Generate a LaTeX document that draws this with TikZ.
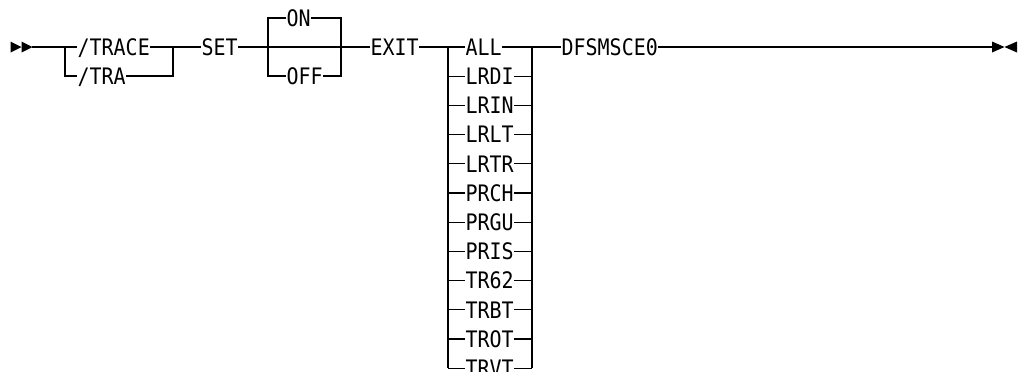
\documentclass[tikz,border=0pt]{standalone}
\usepackage{fontspec}
\setmonofont[FakeStretch=0.88]{DejaVu Sans Mono}
\begin{document}
\begin{tikzpicture}[x=1pt,y=-1pt,line width=1.25pt,
  kw/.style={anchor=west,inner sep=0pt,text height=16.5pt,text depth=0pt,
    font=\ttfamily\fontsize{22.7}{27}\selectfont},
  tip/.style={fill=black,draw=none}]
\clip (0,0) rectangle (1018,372);
% start marker
\fill[tip] (10.5,41.5) -- (21.5,47) -- (10.5,52.5) -- cycle;
\fill[tip] (21.5,41.5) -- (32.5,47) -- (21.5,52.5) -- cycle;
\coordinate (start) at (32,47);
% group 1
\coordinate (g1L) at (65,47);
\coordinate (g1R) at (173,47);
\node[kw] (trace) at (77,47) {/TRACE};
\node[kw] (tra) at (77,76) {/TRA};
\draw (start) -- (g1L) -- (trace.west);
\draw (trace.east) -- (g1R);
\draw (g1L) |- (tra.west);
\draw (tra.east) -| (g1R);
\node[kw] (set) at (201,47) {SET};
\draw (g1R) -- (set.west);
% group 2
\coordinate (g2L) at (268,47);
\coordinate (g2R) at (341,47);
\node[kw] (on) at (286,18) {ON};
\node[kw] (off) at (286,76) {OFF};
\draw (set.east) -- (g2L) -- (g2R);
\draw (on.west) -| (g2L) |- (off.west);
\draw (on.east) -| (g2R) |- (off.east);
\node[kw] (exit) at (370,47) {EXIT};
\draw (g2R) -- (exit.west);
% group 3
\coordinate (g3L) at (448,47);
\coordinate (g3R) at (532,47);
\foreach \t [count=\i from 0] in {ALL,LRDI,LRIN,LRLT,LRTR,PRCH,PRGU,PRIS,TR62,TRBT,TROT,TRVT}{
  \node[kw] (o\i) at (465,{47+29.2*\i}) {\t};
  \draw (g3L |- o\i.west) -- (o\i.west);
  \draw (o\i.east) -- (g3R |- o\i.east);
}
\draw (exit.east) -- (g3L) -- (g3L |- o11.west);
\draw (g3R) -- (g3R |- o11.east);
\node[kw] (dfs) at (561,47) {DFSMSCE0};
\draw (g3R) -- (dfs.west);
\coordinate (endc) at (992,47);
\draw (dfs.east) -- (endc);
% end marker
\fill[tip] (992,41.5) -- (1004.5,47) -- (992,52.5) -- cycle;
\fill[tip] (1017,41.5) -- (1004.5,47) -- (1017,52.5) -- cycle;
\end{tikzpicture}
\end{document}
